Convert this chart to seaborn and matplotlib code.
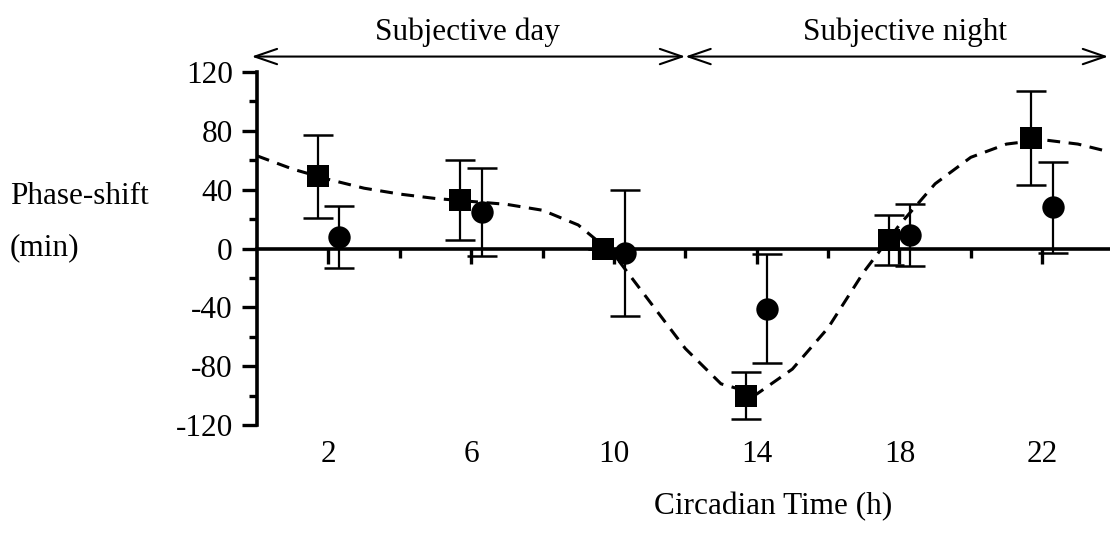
import numpy as np
import pandas as pd
import matplotlib
matplotlib.use("Agg")
import matplotlib.pyplot as plt
import seaborn as sns

# ---- data ----
circadian_time = [2, 6, 10, 14, 18, 22]
square_shift = [49, 33, 0, -100, 6, 75]
square_err = [28, 27, 0, 16, 17, 32]
circle_shift = [8, 25, -3, -41, 9, 28]
circle_err = [21, 30, 43, 37, 21, 31]

curve_time = [0, 1, 2, 3, 4, 5, 6, 7, 8, 9, 10, 11, 12, 13, 14, 15, 16, 17, 18, 19, 20, 21, 22, 23, 24]
curve_shift = [63, 54, 47, 41, 37, 34, 32, 30, 26, 16, -4, -36, -68, -92, -99, -82, -54, -16, 16, 44, 62, 71, 74, 71, 65]

x_ticks = [2, 6, 10, 14, 18, 22]
x_tick_labels = ["2", "6", "10", "14", "18", "22"]
x_minor = [4, 8, 12, 16, 20]
y_ticks = [-120, -80, -40, 0, 40, 80, 120]
y_tick_labels = ["-120", "-80", "-40", "0", "40", "80", "120"]
y_minor = [-100, -60, -20, 20, 60, 100]

periods = ["Subjective day", "Subjective night"]
period_bounds = [(-0.15, 12), (12, 23.85)]
period_label_x = [5.9, 18.15]

x_label = "Circadian Time (h)"
y_label_lines = ["Phase-shift", "(min)"]

dodge = 0.3

# ---- style ----
sns.set_theme(style="white")
plt.rcParams["font.family"] = ["Liberation Serif", "DejaVu Serif"]
plt.rcParams["axes.unicode_minus"] = False
FS = 22.5

W, H = 1110, 534
fig = plt.figure(figsize=(W / 100, H / 100), dpi=100)
fig.patch.set_facecolor("white")
ax = fig.add_axes([257 / W, 1 - 425 / H, (W - 257) / W, (425 - 72) / H])
ax.set_facecolor("white")

sq_df = pd.DataFrame({"t": np.array(circadian_time) - dodge, "y": square_shift, "e": square_err})
ci_df = pd.DataFrame({"t": np.array(circadian_time) + dodge, "y": circle_shift, "e": circle_err})
curve_df = pd.DataFrame({"t": curve_time, "y": curve_shift})

# fitted dashed curve
sns.lineplot(data=curve_df, x="t", y="y", ax=ax, color="black", lw=2.2,
             linestyle=(0, (4.2, 2.8)), zorder=2)

# error bars
for df in (sq_df, ci_df):
    ax.errorbar(df["t"], df["y"], yerr=df["e"], fmt="none", ecolor="black",
                elinewidth=1.6, capsize=11, capthick=1.8, zorder=3)

# markers
sns.scatterplot(data=sq_df, x="t", y="y", ax=ax, marker="s", s=240, color="black",
                edgecolor="black", linewidth=0, zorder=4)
sns.scatterplot(data=ci_df, x="t", y="y", ax=ax, marker="o", s=260, color="black",
                edgecolor="black", linewidth=0, zorder=4)

ax.set_xlim(0, 23.9)
ax.set_ylim(-120, 120)
ax.set_xlabel("")
ax.set_ylabel("")

# spines
for s in ("top", "right"):
    ax.spines[s].set_visible(False)
ax.spines["left"].set_linewidth(2.6)
ax.spines["left"].set_color("black")
ax.spines["bottom"].set_position(("data", 0))
ax.spines["bottom"].set_linewidth(2.6)
ax.spines["bottom"].set_color("black")

# ticks
ax.set_xticks(x_ticks)
ax.set_xticks(x_minor, minor=True)
ax.tick_params(axis="x", which="major", direction="out", length=11, width=2.4,
               color="black", labelbottom=False, bottom=True)
ax.tick_params(axis="x", which="minor", direction="out", length=6.5, width=2.4,
               color="black", bottom=True)
ax.set_yticks(y_ticks, y_tick_labels)
ax.set_yticks(y_minor, minor=True)
ax.tick_params(axis="y", which="major", direction="out", length=11, width=2.4,
               color="black", left=True, pad=6.5, labelsize=FS, labelcolor="black")
ax.tick_params(axis="y", which="minor", direction="out", length=5.5, width=2.4,
               color="black", left=True)

# x tick labels at the bottom of the plot area
sec = ax.secondary_xaxis("bottom")
sec.set_xticks(x_ticks, x_tick_labels)
sec.tick_params(length=0, pad=11, labelsize=FS, labelcolor="black")
sec.spines["bottom"].set_visible(False)

# period arrows
for (x0, x1), lab, lx in zip(period_bounds, periods, period_label_x):
    ax.annotate("", xy=(x1, 130.5), xytext=(x0, 130.5), xycoords="data",
                annotation_clip=False,
                arrowprops=dict(arrowstyle="<->,head_length=16,head_width=5.5",
                                mutation_scale=1, lw=1.5, color="black",
                                shrinkA=0, shrinkB=0))
    ax.text(lx, 141.7, lab, ha="center", va="baseline", fontsize=FS,
            color="black", clip_on=False)

# axis labels
fig.text(10 / W, 1 - 197 / H, y_label_lines[0], ha="left", va="center", fontsize=FS, color="black")
fig.text(10 / W, 1 - 248 / H, y_label_lines[1], ha="left", va="center", fontsize=FS, color="black")
fig.text(773 / W, 1 - 514 / H, x_label, ha="center", va="baseline", fontsize=FS, color="black")

fig.savefig("out.png", dpi=100, facecolor="white")
